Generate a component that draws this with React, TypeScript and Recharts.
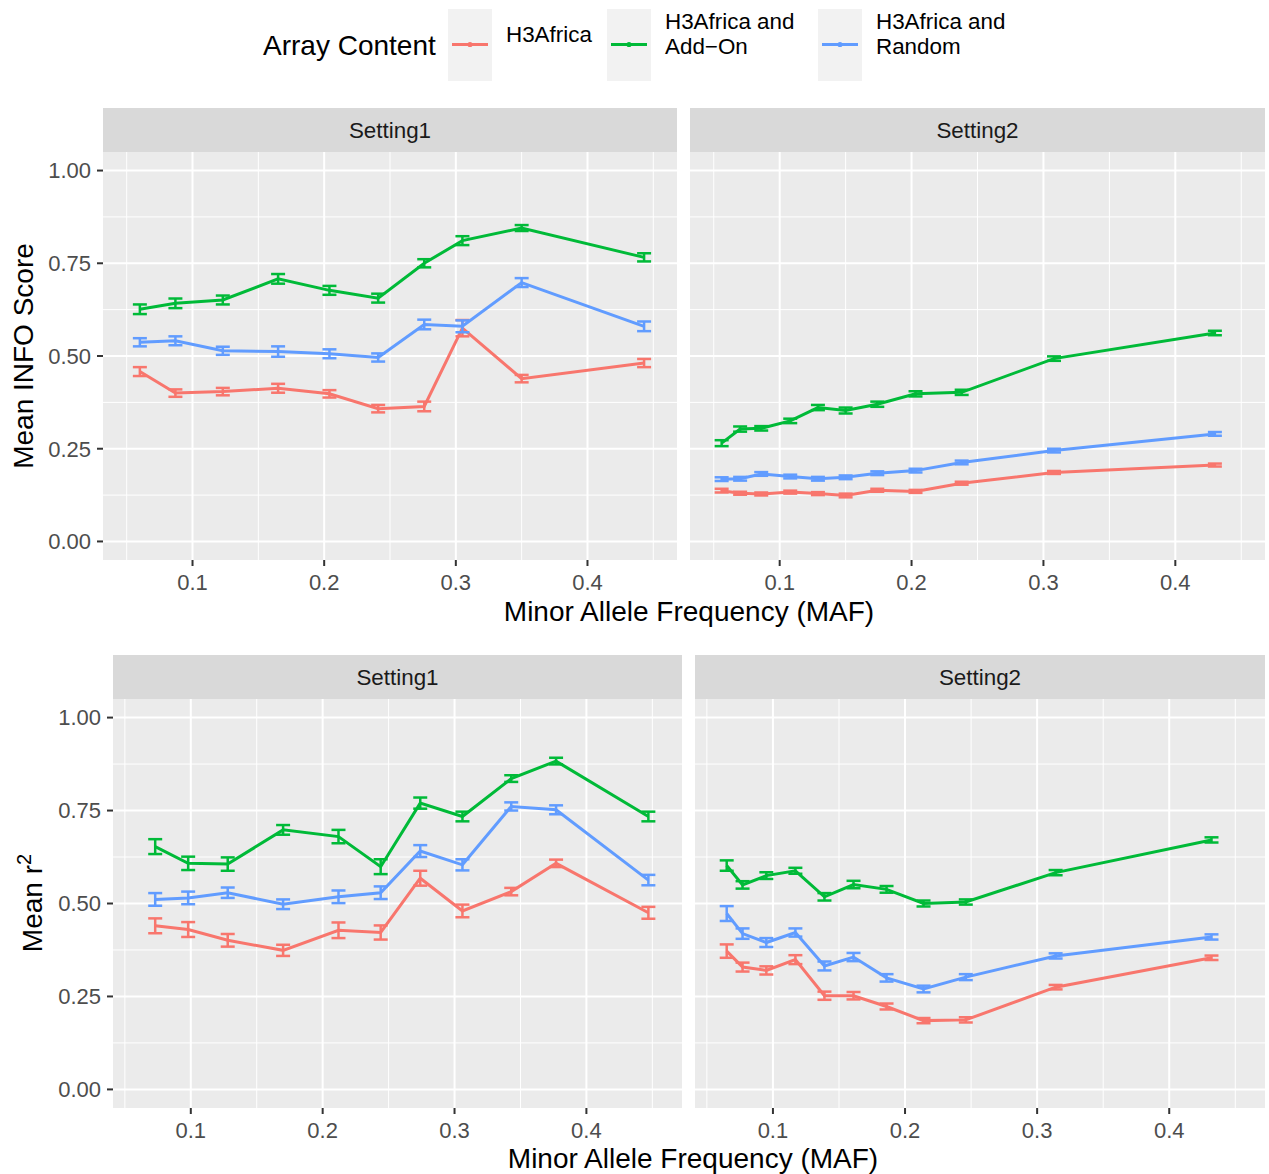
import React from "react";
import {
  LineChart,
  Line,
  XAxis,
  YAxis,
  CartesianGrid,
  ReferenceLine,
  ErrorBar,
} from "recharts";

const RED = "#F8766D";
const GREEN = "#00BA38";
const BLUE = "#619CFF";
const FONT = "'Liberation Sans', Arial, Helvetica, sans-serif";

// Mean INFO score, Setting1
const infoS1Maf = [0.06, 0.087, 0.123, 0.165, 0.204, 0.241, 0.276, 0.305, 0.35, 0.443];
const infoS1H3 = [0.458, 0.4, 0.404, 0.413, 0.398, 0.358, 0.364, 0.575, 0.439, 0.481];
const infoS1AddOn = [0.626, 0.642, 0.651, 0.708, 0.677, 0.656, 0.75, 0.811, 0.845, 0.766];
const infoS1Random = [0.537, 0.541, 0.514, 0.512, 0.506, 0.496, 0.585, 0.58, 0.698, 0.58];
const infoS1H3Err = [0.012, 0.01, 0.01, 0.012, 0.01, 0.01, 0.013, 0.022, 0.01, 0.011];
const infoS1AddOnErr = [0.013, 0.013, 0.012, 0.013, 0.012, 0.012, 0.011, 0.012, 0.008, 0.011];
const infoS1RandomErr = [0.011, 0.012, 0.011, 0.014, 0.012, 0.011, 0.013, 0.016, 0.012, 0.013];

// Mean INFO score, Setting2
const infoS2Maf = [0.056, 0.07, 0.086, 0.108, 0.129, 0.15, 0.174, 0.203, 0.238, 0.308, 0.43];
const infoS2H3 = [0.137, 0.13, 0.128, 0.133, 0.129, 0.124, 0.138, 0.135, 0.157, 0.186, 0.206];
const infoS2AddOn = [0.265, 0.303, 0.305, 0.325, 0.361, 0.353, 0.37, 0.398, 0.402, 0.493, 0.562];
const infoS2Random = [0.168, 0.169, 0.182, 0.175, 0.169, 0.173, 0.184, 0.191, 0.213, 0.245, 0.29];
const infoS2H3Err = [0.005, 0.004, 0.004, 0.004, 0.004, 0.005, 0.004, 0.004, 0.004, 0.004, 0.004];
const infoS2AddOnErr = [0.008, 0.007, 0.006, 0.006, 0.007, 0.008, 0.007, 0.007, 0.007, 0.006, 0.006];
const infoS2RandomErr = [0.005, 0.005, 0.005, 0.005, 0.005, 0.005, 0.005, 0.005, 0.005, 0.005, 0.005];

// Mean r2, Setting1
const r2S1Maf = [0.073, 0.098, 0.128, 0.17, 0.212, 0.244, 0.274, 0.306, 0.343, 0.377, 0.447];
const r2S1H3 = [0.44, 0.43, 0.401, 0.374, 0.428, 0.422, 0.568, 0.48, 0.532, 0.608, 0.475];
const r2S1AddOn = [0.653, 0.608, 0.606, 0.698, 0.68, 0.599, 0.77, 0.734, 0.836, 0.883, 0.734];
const r2S1Random = [0.511, 0.515, 0.529, 0.498, 0.518, 0.529, 0.641, 0.604, 0.761, 0.752, 0.563];
const r2S1H3Err = [0.02, 0.02, 0.017, 0.015, 0.021, 0.019, 0.02, 0.017, 0.01, 0.01, 0.016];
const r2S1AddOnErr = [0.02, 0.018, 0.018, 0.013, 0.018, 0.02, 0.015, 0.013, 0.009, 0.009, 0.013];
const r2S1RandomErr = [0.017, 0.017, 0.014, 0.013, 0.017, 0.017, 0.016, 0.015, 0.011, 0.012, 0.014];

// Mean r2, Setting2
const r2S2Maf = [0.065, 0.077, 0.095, 0.117, 0.139, 0.161, 0.186, 0.214, 0.246, 0.314, 0.432];
const r2S2H3 = [0.372, 0.329, 0.32, 0.349, 0.252, 0.252, 0.223, 0.185, 0.187, 0.275, 0.354];
const r2S2AddOn = [0.602, 0.55, 0.575, 0.588, 0.518, 0.551, 0.538, 0.5, 0.504, 0.583, 0.671];
const r2S2Random = [0.473, 0.419, 0.395, 0.422, 0.332, 0.356, 0.3, 0.27, 0.302, 0.359, 0.41];
const r2S2H3Err = [0.018, 0.012, 0.011, 0.012, 0.011, 0.01, 0.008, 0.007, 0.007, 0.006, 0.006];
const r2S2AddOnErr = [0.014, 0.01, 0.009, 0.008, 0.01, 0.01, 0.009, 0.008, 0.007, 0.007, 0.007];
const r2S2RandomErr = [0.02, 0.014, 0.012, 0.011, 0.012, 0.011, 0.01, 0.009, 0.008, 0.007, 0.007];

const majorX = [0.1, 0.2, 0.3, 0.4];
const minorX = [0.05, 0.15, 0.25, 0.35, 0.45];
const majorY = [0, 0.25, 0.5, 0.75, 1];
const minorY = [0.125, 0.375, 0.625, 0.875];

const legendItems = [
  { label: ["H3Africa"], color: RED },
  { label: ["H3Africa and", "Add\u2212On"], color: GREEN },
  { label: ["H3Africa and", "Random"], color: BLUE },
];

function buildRows(
  maf: number[],
  h3: number[],
  addOn: number[],
  random: number[],
  h3Err: number[],
  addOnErr: number[],
  randomErr: number[]
) {
  return maf.map((m, i) => ({
    maf: m,
    h3: h3[i],
    addOn: addOn[i],
    random: random[i],
    h3Err: h3Err[i],
    addOnErr: addOnErr[i],
    randomErr: randomErr[i],
  }));
}

const tickStyle = { fontSize: 22, fill: "#4d4d4d", fontFamily: FONT };

function Panel({ rows, left, top, width, height, showY, xDomain }: any) {
  const series = [
    { key: "h3", color: RED },
    { key: "addOn", color: GREEN },
    { key: "random", color: BLUE },
  ];
  return (
    <div style={{ position: "absolute", left, top }}>
      <LineChart
        width={width}
        height={height}
        data={rows}
        margin={{ top: 0, right: 0, bottom: 0, left: 0 }}
      >
        <CartesianGrid fill="#ebebeb" stroke="none" />
        {minorX.map((v) => (
          <ReferenceLine key={"mx" + v} x={v} stroke="#fff" strokeWidth={1} />
        ))}
        {minorY.map((v) => (
          <ReferenceLine key={"my" + v} y={v} stroke="#fff" strokeWidth={1} />
        ))}
        {majorX.map((v) => (
          <ReferenceLine key={"Mx" + v} x={v} stroke="#fff" strokeWidth={2} />
        ))}
        {majorY.map((v) => (
          <ReferenceLine key={"My" + v} y={v} stroke="#fff" strokeWidth={2} />
        ))}
        <XAxis
          type="number"
          dataKey="maf"
          domain={xDomain}
          ticks={majorX}
          allowDataOverflow
          height={40}
          axisLine={false}
          tickSize={6}
          tickMargin={8}
          tickLine={{ stroke: "#333", strokeWidth: 2 }}
          tick={tickStyle}
          tickFormatter={(v: number) => v.toFixed(1)}
        />
        <YAxis
          type="number"
          domain={[-0.05, 1.05]}
          ticks={majorY}
          allowDataOverflow
          hide={!showY}
          width={100}
          axisLine={false}
          tickSize={6}
          tickMargin={6}
          tickLine={{ stroke: "#333", strokeWidth: 2 }}
          tick={tickStyle}
          tickFormatter={(v: number) => v.toFixed(2)}
        />
        {series.map((s) => (
          <Line
            key={s.key}
            dataKey={s.key}
            stroke={s.color}
            strokeWidth={3}
            dot={false}
            activeDot={false}
            isAnimationActive={false}
          >
            <ErrorBar
              dataKey={s.key + "Err"}
              direction="y"
              width={7}
              stroke={s.color}
              strokeWidth={2.5}
              isAnimationActive={false}
            />
          </Line>
        ))}
      </LineChart>
    </div>
  );
}

function Strip({ x, y, w, label }: any) {
  return (
    <g>
      <rect x={x} y={y} width={w} height={44} fill="#d9d9d9" />
      <text
        x={x + w / 2}
        y={y + 30}
        textAnchor="middle"
        fontSize={22.4}
        fill="#1a1a1a"
        fontFamily={FONT}
      >
        {label}
      </text>
    </g>
  );
}

export default function App() {
  const infoS1 = buildRows(infoS1Maf, infoS1H3, infoS1AddOn, infoS1Random, infoS1H3Err, infoS1AddOnErr, infoS1RandomErr);
  const infoS2 = buildRows(infoS2Maf, infoS2H3, infoS2AddOn, infoS2Random, infoS2H3Err, infoS2AddOnErr, infoS2RandomErr);
  const r2S1 = buildRows(r2S1Maf, r2S1H3, r2S1AddOn, r2S1Random, r2S1H3Err, r2S1AddOnErr, r2S1RandomErr);
  const r2S2 = buildRows(r2S2Maf, r2S2H3, r2S2AddOn, r2S2Random, r2S2H3Err, r2S2AddOnErr, r2S2RandomErr);
  const topDomain = [0.032, 0.468];
  const bottomDomain = [0.041, 0.4725];
  const keyX = [448, 607, 818];

  return (
    <div
      style={{
        position: "absolute",
        left: 0,
        top: 0,
        width: 1269,
        height: 1174,
        background: "#fff",
        fontFamily: FONT,
      }}
    >
      <svg
        width={1269}
        height={1174}
        style={{ position: "absolute", left: 0, top: 0 }}
      >
        {/* legend */}
        <text x={263} y={55} fontSize={28} fill="#000" fontFamily={FONT}>
          Array Content
        </text>
        {legendItems.map((item, i) => (
          <g key={i}>
            <rect x={keyX[i]} y={9} width={44} height={72} fill="#f2f2f2" />
            <line
              x1={keyX[i] + 4}
              x2={keyX[i] + 40}
              y1={44.5}
              y2={44.5}
              stroke={item.color}
              strokeWidth={3}
            />
            <circle cx={keyX[i] + 22} cy={44.5} r={2.6} fill={item.color} />
            {item.label.map((l, j) => (
              <text
                key={j}
                x={keyX[i] + 58}
                y={item.label.length === 1 ? 42 : 29 + j * 25}
                fontSize={22.4}
                fill="#000"
                fontFamily={FONT}
              >
                {l}
              </text>
            ))}
          </g>
        ))}

        <Strip x={103} y={108} w={574} label="Setting1" />
        <Strip x={690} y={108} w={575} label="Setting2" />
        <Strip x={113} y={655} w={569} label="Setting1" />
        <Strip x={695} y={655} w={570} label="Setting2" />

        {/* axis titles */}
        <text
          transform="translate(33,356) rotate(-90)"
          textAnchor="middle"
          fontSize={28}
          fill="#000"
          fontFamily={FONT}
        >
          Mean INFO Score
        </text>
        <text
          transform="translate(42,903) rotate(-90)"
          textAnchor="middle"
          fontSize={28}
          fill="#000"
          fontFamily={FONT}
        >
          Mean r<tspan dy={-11} fontSize={20}>2</tspan>
        </text>
        <text x={689} y={621} textAnchor="middle" fontSize={28} fill="#000" fontFamily={FONT}>
          Minor Allele Frequency (MAF)
        </text>
        <text x={693} y={1168} textAnchor="middle" fontSize={28} fill="#000" fontFamily={FONT}>
          Minor Allele Frequency (MAF)
        </text>
      </svg>

      <Panel rows={infoS1} left={3} top={152} width={674} height={448} showY xDomain={topDomain} />
      <Panel rows={infoS2} left={690} top={152} width={575} height={448} showY={false} xDomain={topDomain} />
      <Panel rows={r2S1} left={13} top={699} width={669} height={449} showY xDomain={bottomDomain} />
      <Panel rows={r2S2} left={695} top={699} width={570} height={449} showY={false} xDomain={bottomDomain} />
    </div>
  );
}
